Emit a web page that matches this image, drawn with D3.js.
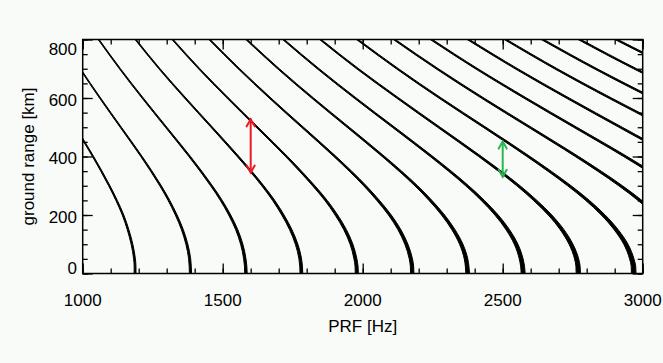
<!DOCTYPE html>
<html><head><meta charset="utf-8">
<script src="https://cdn.jsdelivr.net/npm/d3@7"></script>
<style>
body{margin:0;background:#f8fbf8;}
svg{display:block;font-family:"Liberation Sans",Arial,Helvetica,sans-serif;}
</style></head><body>
<svg id="chart" width="663" height="363"></svg>
<script>
// ground range levels [km] at which PRF of each curve was read
const groundRange = [0,25,50,100,150,200,250,300,400,500,600,700,800];
// curve index (pulses in flight)
const curveIds = [6,7,8,9,10,11,12,13,14,15,16,17,18,19,20,21,22];
// PRF [Hz] of each curve at the ground range levels above
const prfValues = [
  [1187,1187,1185,1176,1162,1144,1121,1095,1037,974,911,850,793],
  [1385,1384,1382,1372,1356,1334,1308,1278,1210,1136,1062,991,925],
  [1583,1582,1579,1568,1550,1525,1495,1460,1382,1298,1214,1133,1057],
  [1781,1780,1777,1764,1743,1715,1682,1643,1555,1461,1366,1274,1189],
  [1979,1978,1974,1960,1937,1906,1869,1825,1728,1623,1518,1416,1321],
  [2177,2176,2172,2156,2131,2097,2055,2008,1901,1785,1669,1558,1453],
  [2375,2373,2369,2352,2324,2287,2242,2191,2074,1948,1821,1699,1585],
  [2573,2571,2566,2548,2518,2478,2429,2373,2246,2110,1973,1841,1717],
  [2770,2769,2764,2744,2712,2669,2616,2556,2419,2272,2125,1982,1849],
  [2968,2967,2961,2940,2905,2859,2803,2738,2592,2435,2276,2124,1981],
  [3166,3164,3159,3136,3099,3050,2990,2921,2765,2597,2428,2266,2113],
  [3364,3362,3356,3332,3293,3240,3176,3103,2938,2759,2580,2407,2245],
  [3562,3560,3553,3528,3486,3431,3363,3286,3110,2921,2732,2549,2377],
  [3760,3758,3751,3724,3680,3622,3550,3468,3283,3084,2883,2690,2510],
  [3958,3955,3948,3920,3874,3812,3737,3651,3456,3246,3035,2832,2642],
  [4156,4153,4146,4116,4068,4003,3924,3833,3629,3408,3187,2973,2774],
  [4354,4351,4343,4312,4261,4193,4111,4016,3802,3571,3339,3115,2906]
];
const xTickLabels = [1000,1500,2000,2500,3000];
const yTickLabels = [0,200,400,600,800];
// swath arrows
const arrowPRF = [1600,2500];
const arrowFrom = [345,331];
const arrowTo = [527,451];
const arrowColors = ["#ea1a22","#2bb54e"];

const svg = d3.select("#chart");
const W=663,H=363;
svg.append("rect").attr("width",W).attr("height",H).attr("fill","#f8fbf8");
const L=82.7,R=642.7,T=39.5,B=273.5;
const x = d3.scaleLinear().domain([1000,3000]).range([L,R]);
const y = d3.scaleLinear().domain([0,800]).range([B,T]);

svg.append("clipPath").attr("id","clip").append("rect")
  .attr("x",L).attr("y",T).attr("width",R-L).attr("height",B-T);

const gCurves = svg.append("g").attr("clip-path","url(#clip)");
const band = g => 0.0055/(1+g/1600);
const area = d3.area()
  .y(d=>y(d.g))
  .x0(d=>x(d.p*(1-band(d.g)/2)))
  .x1(d=>x(d.p*(1+band(d.g)/2)))
  .curve(d3.curveMonotoneY);
curveIds.forEach((id,i)=>{
  const pts = groundRange.map((g,j)=>({g:g,p:prfValues[i][j]})).reverse();
  gCurves.append("path").attr("d",area(pts))
    .attr("fill","#000").attr("stroke","#000").attr("stroke-width",1.0)
    .attr("stroke-linejoin","round");
});

// axes (ticks inward on all sides)
function axisG(axis, tx, ty){
  const g = svg.append("g").attr("transform",`translate(${tx},${ty})`).call(axis);
  g.selectAll("text").remove();
  g.select(".domain").remove();
  g.selectAll("line").attr("stroke","#000").attr("stroke-width",1.3);
  return g;
}
const xMinor = d3.range(1000,3001,100), xMajor = d3.range(1000,3001,500);
const yMinor = d3.range(0,801,50), yMajor = d3.range(0,801,200);
axisG(d3.axisBottom(x).tickValues(xMinor).tickSize(-5).tickFormat(""),0,B);
axisG(d3.axisBottom(x).tickValues(xMajor).tickSize(-10).tickFormat(""),0,B);
axisG(d3.axisTop(x).tickValues(xMinor).tickSize(-5).tickFormat(""),0,T);
axisG(d3.axisTop(x).tickValues(xMajor).tickSize(-10).tickFormat(""),0,T);
axisG(d3.axisLeft(y).tickValues(yMinor).tickSize(-5).tickFormat(""),L,0);
axisG(d3.axisLeft(y).tickValues(yMajor).tickSize(-10).tickFormat(""),L,0);
axisG(d3.axisRight(y).tickValues(yMinor).tickSize(-5).tickFormat(""),R,0);
axisG(d3.axisRight(y).tickValues(yMajor).tickSize(-10).tickFormat(""),R,0);

svg.append("rect").attr("x",L).attr("y",T).attr("width",R-L).attr("height",B-T)
  .attr("fill","none").attr("stroke","#000").attr("stroke-width",1.5);

// tick labels
const fs = 17;
svg.append("g").selectAll("text").data(xTickLabels).join("text")
  .attr("x",d=>x(d)).attr("y",306).attr("text-anchor","middle")
  .attr("font-size",fs).attr("fill","#000").text(d=>d);
svg.append("g").selectAll("text").data(yTickLabels).join("text")
  .attr("x",77).attr("y",d=>Math.max(49,Math.min(268,y(d)+1.5))+6)
  .attr("text-anchor","end").attr("font-size",fs).attr("fill","#000").text(d=>d);

svg.append("text").attr("x",(L+R)/2).attr("y",332).attr("text-anchor","middle")
  .attr("font-size",fs).attr("fill","#000").text("PRF [Hz]");
svg.append("text").attr("transform",`translate(34,${(T+B)/2}) rotate(-90)`)
  .attr("text-anchor","middle").attr("font-size",fs).attr("fill","#000")
  .text("ground range [km]");

// arrows
arrowPRF.forEach((p,i)=>{
  const g = svg.append("g").attr("stroke",arrowColors[i]).attr("stroke-width",2)
    .attr("fill","none").attr("stroke-linecap","round");
  const xa = x(p), y1 = y(arrowTo[i]), y2 = y(arrowFrom[i]);
  g.append("line").attr("x1",xa).attr("x2",xa).attr("y1",y1).attr("y2",y2);
  g.append("path").attr("d",`M${xa-4},${y1+7}L${xa},${y1}L${xa+4},${y1+7}`);
  g.append("path").attr("d",`M${xa-4},${y2-7}L${xa},${y2}L${xa+4},${y2-7}`);
});
</script>
</body></html>
